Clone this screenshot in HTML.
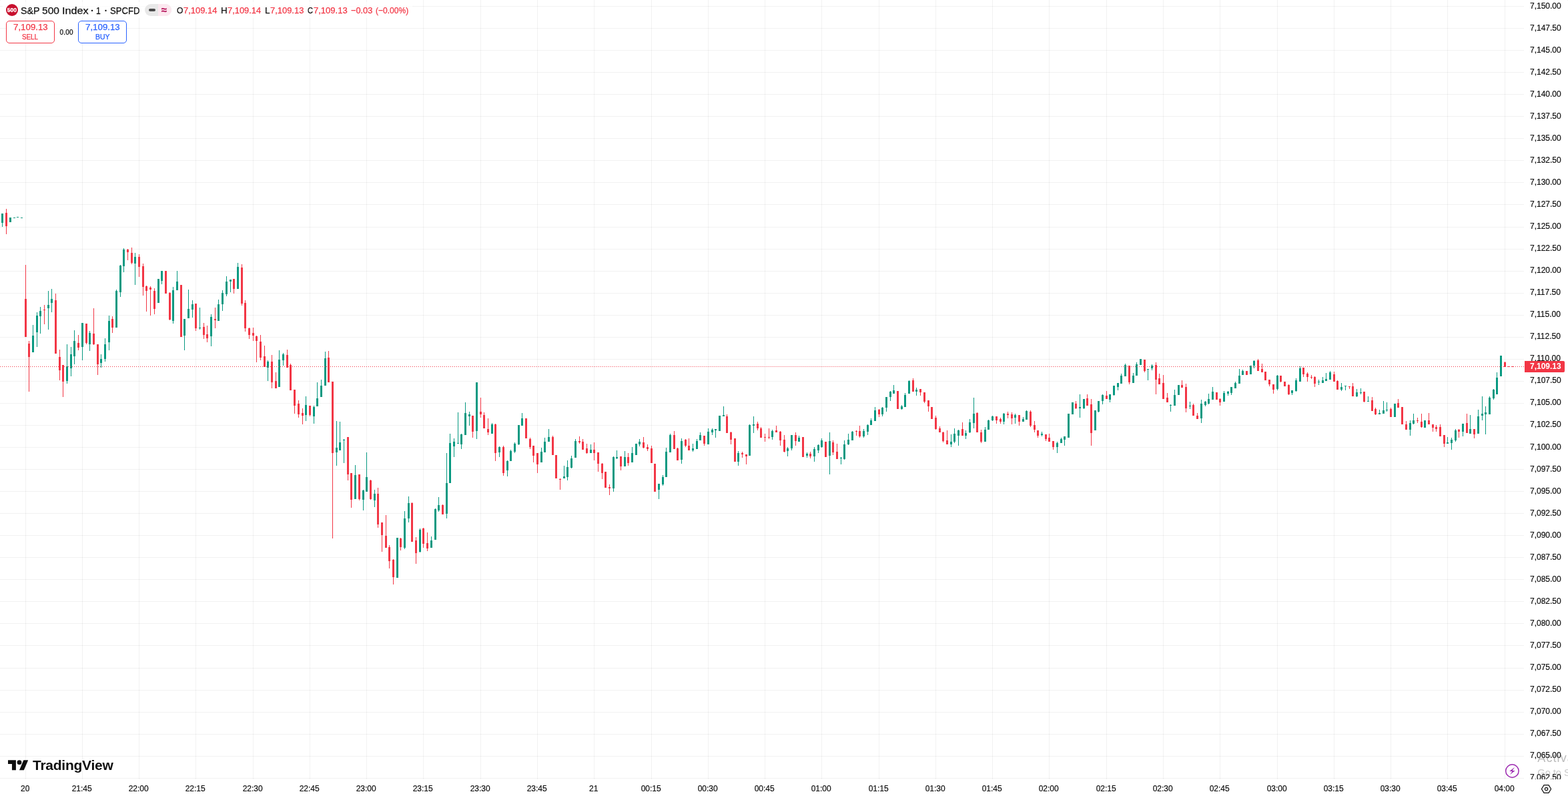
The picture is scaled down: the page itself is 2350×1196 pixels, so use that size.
<!DOCTYPE html>
<html lang="en"><head><meta charset="utf-8"><title>S&amp;P 500 Index chart</title>
<style>
html,body{margin:0;padding:0;background:#fff;}
body{width:2350px;height:1196px;overflow:hidden;position:relative;font-family:"Liberation Sans",Arial,sans-serif;color:#0f0f0f;}
.chart{position:absolute;left:0;top:0;}
.t{position:absolute;white-space:nowrap;line-height:1;-webkit-text-stroke:0.25px;}
.w{-webkit-text-stroke:0;}
.tl{position:absolute;font-size:12px;line-height:12px;white-space:nowrap;transform:translateX(-50%);-webkit-text-stroke:0.2px #0f0f0f;}
.paxis{position:absolute;left:2284px;top:0;width:66px;height:1168px;overflow:hidden;}
.paxis div{position:absolute;left:9px;font-size:12px;line-height:12px;white-space:nowrap;-webkit-text-stroke:0.2px #0f0f0f;}
.r{color:#f23645;}
.b{color:#2962ff;}
</style></head><body>
<svg class="chart" width="2350" height="1196" viewBox="0 0 2350 1196" shape-rendering="crispEdges">
<path d="M38 0h1v1168h-1zM123 0h1v1168h-1zM208 0h1v1168h-1zM293 0h1v1168h-1zM379 0h1v1168h-1zM464 0h1v1168h-1zM549 0h1v1168h-1zM634 0h1v1168h-1zM720 0h1v1168h-1zM805 0h1v1168h-1zM890 0h1v1168h-1zM976 0h1v1168h-1zM1061 0h1v1168h-1zM1146 0h1v1168h-1zM1231 0h1v1168h-1zM1317 0h1v1168h-1zM1402 0h1v1168h-1zM1487 0h1v1168h-1zM1572 0h1v1168h-1zM1658 0h1v1168h-1zM1743 0h1v1168h-1zM1828 0h1v1168h-1zM1914 0h1v1168h-1zM1999 0h1v1168h-1zM2084 0h1v1168h-1zM2169 0h1v1168h-1zM2255 0h1v1168h-1z" fill="rgba(0,0,0,0.052)"/>
<path d="M0 9h2284v1h-2284zM0 42h2284v1h-2284zM0 75h2284v1h-2284zM0 108h2284v1h-2284zM0 141h2284v1h-2284zM0 174h2284v1h-2284zM0 207h2284v1h-2284zM0 240h2284v1h-2284zM0 273h2284v1h-2284zM0 306h2284v1h-2284zM0 340h2284v1h-2284zM0 373h2284v1h-2284zM0 406h2284v1h-2284zM0 439h2284v1h-2284zM0 472h2284v1h-2284zM0 505h2284v1h-2284zM0 538h2284v1h-2284zM0 571h2284v1h-2284zM0 604h2284v1h-2284zM0 637h2284v1h-2284zM0 670h2284v1h-2284zM0 703h2284v1h-2284zM0 736h2284v1h-2284zM0 769h2284v1h-2284zM0 802h2284v1h-2284zM0 835h2284v1h-2284zM0 868h2284v1h-2284zM0 901h2284v1h-2284zM0 934h2284v1h-2284zM0 967h2284v1h-2284zM0 1001h2284v1h-2284zM0 1034h2284v1h-2284zM0 1067h2284v1h-2284zM0 1100h2284v1h-2284zM0 1133h2284v1h-2284zM0 1166h2284v1h-2284z" fill="rgba(0,0,0,0.052)"/>
<path d="M3 320h1v20h-1zM2 320h3v14h-3zM14 326h3v7h-3zM20 326h3v1h-3zM25 325h3v1h-3zM31 326h3v1h-3zM49 487h1v41h-1zM48 503h3v25h-3zM55 468h1v52h-1zM54 473h3v25h-3zM60 460h1v40h-1zM59 466h3v8h-3zM72 436h1v58h-1zM71 457h3v5h-3zM77 433h1v35h-1zM76 448h3v6h-3zM100 516h1v59h-1zM99 549h3v22h-3zM106 520h1v44h-1zM105 531h3v21h-3zM111 495h1v51h-1zM110 511h3v23h-3zM123 484h1v56h-1zM122 484h3v36h-3zM134 496h1v30h-1zM133 499h3v17h-3zM151 531h1v20h-1zM150 538h3v6h-3zM157 507h1v35h-1zM156 516h3v22h-3zM163 473h1v52h-1zM162 481h3v32h-3zM174 434h1v57h-1zM173 436h3v55h-3zM180 397h1v48h-1zM179 398h3v40h-3zM185 372h1v36h-1zM184 374h3v25h-3zM202 379h1v48h-1zM201 385h3v10h-3zM236 418h3v36h-3zM242 406h1v20h-1zM241 406h3v15h-3zM259 430h1v55h-1zM258 435h3v46h-3zM265 406h1v29h-1zM264 422h3v13h-3zM276 478h1v47h-1zM275 478h3v25h-3zM282 434h1v43h-1zM281 463h3v14h-3zM288 450h1v26h-1zM287 456h3v8h-3zM299 461h1v33h-1zM298 491h3v1h-3zM316 471h1v48h-1zM315 475h3v29h-3zM327 449h1v32h-1zM326 456h3v25h-3zM333 435h1v31h-1zM332 439h3v17h-3zM339 414h1v30h-1zM338 422h3v19h-3zM345 419h1v19h-1zM344 419h3v3h-3zM356 394h1v39h-1zM355 400h3v33h-3zM401 540h1v31h-1zM400 542h3v9h-3zM418 525h1v55h-1zM417 539h3v41h-3zM424 529h1v19h-1zM423 531h3v9h-3zM458 594h1v37h-1zM457 607h3v15h-3zM470 608h1v27h-1zM469 610h3v14h-3zM475 573h1v36h-1zM474 597h3v12h-3zM481 569h1v26h-1zM480 578h3v17h-3zM487 527h1v51h-1zM486 537h3v41h-3zM504 631h1v67h-1zM503 671h3v7h-3zM509 632h1v43h-1zM508 663h3v12h-3zM515 658h1v36h-1zM514 659h3v1h-3zM532 697h1v51h-1zM531 712h3v36h-3zM544 734h1v31h-1zM543 735h3v14h-3zM549 678h1v59h-1zM548 715h3v22h-3zM561 734h1v26h-1zM560 740h3v10h-3zM594 806h3v60h-3zM606 766h1v57h-1zM605 777h3v44h-3zM612 744h1v39h-1zM611 754h3v23h-3zM629 792h1v36h-1zM628 794h3v33h-3zM646 804h1v17h-1zM645 810h3v11h-3zM652 762h1v47h-1zM651 763h3v46h-3zM657 745h1v22h-1zM656 757h3v8h-3zM669 679h1v98h-1zM668 724h3v46h-3zM674 650h1v74h-1zM673 664h3v60h-3zM680 657h1v28h-1zM679 662h3v7h-3zM686 618h1v47h-1zM685 664h3v1h-3zM691 650h1v23h-1zM690 651h3v15h-3zM697 603h1v49h-1zM696 619h3v33h-3zM703 617h1v21h-1zM702 621h3v3h-3zM714 573h1v85h-1zM713 573h3v73h-3zM737 634h1v16h-1zM736 636h3v14h-3zM748 669h1v16h-1zM747 670h3v8h-3zM760 690h1v24h-1zM759 691h3v14h-3zM765 674h1v17h-1zM764 676h3v15h-3zM771 663h1v16h-1zM770 665h3v12h-3zM777 637h1v30h-1zM776 637h3v29h-3zM782 619h1v19h-1zM781 627h3v11h-3zM811 671h1v22h-1zM810 677h3v16h-3zM816 656h1v22h-1zM815 662h3v16h-3zM822 643h1v19h-1zM821 655h3v7h-3zM845 698h1v19h-1zM844 714h3v3h-3zM850 690h1v30h-1zM849 700h3v15h-3zM856 683h1v19h-1zM855 687h3v14h-3zM862 658h1v28h-1zM861 661h3v25h-3zM885 666h1v13h-1zM884 674h3v5h-3zM919 684h1v53h-1zM918 685h3v47h-3zM924 675h1v13h-1zM923 685h3v2h-3zM936 676h1v23h-1zM935 685h3v14h-3zM947 670h1v23h-1zM946 679h3v14h-3zM952 665h3v17h-3zM958 658h1v11h-1zM957 662h3v4h-3zM987 725h1v23h-1zM986 725h3v9h-3zM993 712h1v16h-1zM992 715h3v11h-3zM998 671h1v44h-1zM997 677h3v38h-3zM1004 650h1v28h-1zM1003 652h3v26h-3zM1021 657h1v38h-1zM1020 661h3v28h-3zM1038 665h1v12h-1zM1037 672h3v3h-3zM1044 658h1v15h-1zM1043 661h3v12h-3zM1049 648h1v12h-1zM1048 652h3v8h-3zM1061 642h1v24h-1zM1060 647h3v19h-3zM1067 642h1v10h-1zM1066 644h3v4h-3zM1072 643h1v13h-1zM1071 643h3v2h-3zM1077 623h3v23h-3zM1084 609h1v15h-1zM1083 622h3v2h-3zM1106 676h1v22h-1zM1105 679h3v13h-3zM1123 636h1v47h-1zM1122 637h3v46h-3zM1129 624h1v25h-1zM1128 636h3v2h-3zM1157 644h1v15h-1zM1156 646h3v9h-3zM1180 670h1v14h-1zM1179 672h3v4h-3zM1186 652h1v23h-1zM1185 652h3v20h-3zM1197 653h1v9h-1zM1196 656h3v6h-3zM1209 678h1v8h-1zM1208 680h3v3h-3zM1220 670h1v22h-1zM1219 673h3v11h-3zM1226 666h1v13h-1zM1225 667h3v8h-3zM1231 657h1v14h-1zM1230 660h3v10h-3zM1243 648h1v63h-1zM1242 661h3v22h-3zM1260 685h1v11h-1zM1259 686h3v1h-3zM1265 660h1v29h-1zM1264 666h3v22h-3zM1271 650h1v17h-1zM1270 659h3v7h-3zM1277 646h1v14h-1zM1276 647h3v13h-3zM1294 643h1v13h-1zM1293 646h3v8h-3zM1300 636h1v16h-1zM1299 637h3v10h-3zM1305 627h1v10h-1zM1304 630h3v7h-3zM1311 610h1v21h-1zM1310 615h3v16h-3zM1322 610h1v14h-1zM1321 611h3v10h-3zM1328 595h1v22h-1zM1327 595h3v16h-3zM1334 586h1v15h-1zM1333 587h3v8h-3zM1339 577h1v13h-1zM1338 585h3v5h-3zM1351 607h1v7h-1zM1350 609h3v4h-3zM1356 589h1v21h-1zM1355 592h3v18h-3zM1362 570h1v20h-1zM1361 571h3v19h-3zM1373 581h1v12h-1zM1372 584h3v3h-3zM1425 651h1v19h-1zM1424 662h3v4h-3zM1430 642h1v22h-1zM1429 650h3v12h-3zM1436 644h1v24h-1zM1435 645h3v8h-3zM1447 645h1v13h-1zM1446 649h3v4h-3zM1453 628h1v21h-1zM1452 633h3v15h-3zM1459 596h1v46h-1zM1458 620h3v14h-3zM1476 640h1v22h-1zM1475 644h3v18h-3zM1481 629h1v15h-1zM1480 630h3v14h-3zM1487 623h1v8h-1zM1486 624h3v6h-3zM1504 619h1v17h-1zM1503 620h3v12h-3zM1521 620h1v15h-1zM1520 622h3v4h-3zM1533 625h1v7h-1zM1532 628h3v4h-3zM1538 615h1v14h-1zM1537 616h3v13h-3zM1561 647h1v7h-1zM1560 650h3v2h-3zM1584 662h1v17h-1zM1583 664h3v6h-3zM1590 656h1v8h-1zM1589 658h3v6h-3zM1595 654h1v14h-1zM1594 654h3v5h-3zM1600 620h3v36h-3zM1606 603h3v18h-3zM1618 591h1v35h-1zM1617 610h3v2h-3zM1624 598h1v15h-1zM1623 598h3v14h-3zM1640 615h3v30h-3zM1646 601h1v17h-1zM1645 601h3v16h-3zM1652 591h1v15h-1zM1651 592h3v9h-3zM1663 591h1v12h-1zM1662 591h3v8h-3zM1669 578h1v15h-1zM1668 578h3v14h-3zM1675 574h1v11h-1zM1674 574h3v6h-3zM1680 560h1v15h-1zM1679 563h3v12h-3zM1686 545h1v19h-1zM1685 547h3v17h-3zM1698 559h1v15h-1zM1697 563h3v11h-3zM1703 543h1v20h-1zM1702 546h3v17h-3zM1708 538h3v9h-3zM1720 553h1v17h-1zM1719 553h3v1h-3zM1726 546h1v9h-1zM1725 548h3v4h-3zM1754 606h1v11h-1zM1753 607h3v1h-3zM1760 584h1v24h-1zM1759 592h3v16h-3zM1765 577h3v15h-3zM1783 602h1v11h-1zM1782 608h3v1h-3zM1800 599h1v35h-1zM1799 605h3v22h-3zM1806 601h1v8h-1zM1805 602h3v5h-3zM1811 590h1v16h-1zM1810 598h3v7h-3zM1817 580h1v19h-1zM1816 587h3v12h-3zM1834 586h1v16h-1zM1833 589h3v13h-3zM1840 586h1v7h-1zM1839 587h3v3h-3zM1845 580h1v12h-1zM1844 580h3v9h-3zM1851 572h1v10h-1zM1850 574h3v8h-3zM1857 553h1v22h-1zM1856 563h3v12h-3zM1862 554h1v8h-1zM1861 556h3v6h-3zM1873 548h3v13h-3zM1879 540h1v12h-1zM1878 541h3v7h-3zM1914 562h1v23h-1zM1913 563h3v20h-3zM1936 585h1v7h-1zM1935 585h3v4h-3zM1942 567h1v20h-1zM1941 570h3v16h-3zM1948 549h1v23h-1zM1947 552h3v20h-3zM1976 569h1v8h-1zM1975 572h3v1h-3zM1982 565h1v9h-1zM1981 570h3v4h-3zM1987 559h1v12h-1zM1986 568h3v3h-3zM1993 556h1v13h-1zM1992 558h3v11h-3zM2010 574h1v12h-1zM2009 580h3v4h-3zM2016 578h1v7h-1zM2015 578h3v1h-3zM2033 583h1v12h-1zM2032 588h3v6h-3zM2039 582h1v9h-1zM2038 588h3v1h-3zM2050 594h1v8h-1zM2049 601h3v1h-3zM2067 614h1v7h-1zM2066 619h3v2h-3zM2073 601h1v19h-1zM2072 615h3v5h-3zM2078 603h1v14h-1zM2077 614h3v1h-3zM2089 605h3v20h-3zM2113 630h1v23h-1zM2112 634h3v10h-3zM2118 620h1v16h-1zM2117 630h3v5h-3zM2134 630h3v11h-3zM2169 655h1v10h-1zM2168 663h3v2h-3zM2175 656h1v18h-1zM2174 659h3v5h-3zM2181 643h1v19h-1zM2180 645h3v15h-3zM2192 635h1v19h-1zM2191 635h3v12h-3zM2203 622h1v28h-1zM2202 643h3v7h-3zM2215 614h1v36h-1zM2214 624h3v26h-3zM2221 594h1v36h-1zM2220 620h3v3h-3zM2226 609h1v42h-1zM2225 618h3v3h-3zM2232 594h1v27h-1zM2231 596h3v25h-3zM2238 583h1v16h-1zM2237 584h3v13h-3zM2243 558h1v33h-1zM2242 566h3v25h-3zM2248 533h3v31h-3z" fill="#089981"/>
<path d="M9 313h1v38h-1zM8 319h3v20h-3zM38 397h1v108h-1zM37 448h3v57h-3zM43 511h1v76h-1zM42 515h3v20h-3zM66 457h1v29h-1zM65 464h3v1h-3zM83 440h1v90h-1zM82 450h3v80h-3zM89 524h1v46h-1zM88 535h3v20h-3zM94 547h1v48h-1zM93 547h3v25h-3zM117 502h1v23h-1zM116 514h3v7h-3zM129 485h1v31h-1zM128 485h3v29h-3zM140 462h1v55h-1zM139 500h3v16h-3zM146 516h1v46h-1zM145 516h3v30h-3zM168 474h1v25h-1zM167 478h3v13h-3zM191 373h1v17h-1zM190 374h3v4h-3zM197 371h1v25h-1zM196 379h3v15h-3zM208 381h1v34h-1zM207 385h3v15h-3zM214 395h1v48h-1zM213 399h3v31h-3zM219 428h1v39h-1zM218 429h3v7h-3zM225 429h1v44h-1zM224 431h3v3h-3zM231 432h1v39h-1zM230 436h3v27h-3zM247 406h3v34h-3zM254 438h1v42h-1zM253 439h3v40h-3zM270 427h3v78h-3zM293 455h1v41h-1zM292 455h3v37h-3zM305 484h1v24h-1zM304 490h3v12h-3zM310 488h1v25h-1zM309 501h3v6h-3zM322 461h1v31h-1zM321 478h3v2h-3zM350 418h1v22h-1zM349 418h3v15h-3zM362 396h1v62h-1zM361 401h3v54h-3zM367 450h1v47h-1zM366 454h3v38h-3zM373 491h1v17h-1zM372 492h3v10h-3zM379 491h1v20h-1zM378 499h3v4h-3zM384 503h1v40h-1zM383 504h3v7h-3zM390 502h1v38h-1zM389 512h3v24h-3zM396 518h1v32h-1zM395 534h3v16h-3zM407 532h1v50h-1zM406 542h3v31h-3zM413 558h1v24h-1zM412 571h3v11h-3zM430 524h1v27h-1zM429 532h3v19h-3zM435 545h1v40h-1zM434 547h3v38h-3zM441 584h1v36h-1zM440 584h3v24h-3zM447 600h1v26h-1zM446 605h3v16h-3zM453 612h1v24h-1zM452 619h3v4h-3zM464 608h1v16h-1zM463 608h3v14h-3zM492 526h1v47h-1zM491 536h3v37h-3zM498 572h1v235h-1zM497 572h3v107h-3zM521 655h1v65h-1zM520 655h3v56h-3zM526 709h1v52h-1zM525 709h3v40h-3zM538 711h1v39h-1zM537 711h3v37h-3zM555 719h1v30h-1zM554 720h3v28h-3zM566 731h1v60h-1zM565 740h3v46h-3zM572 783h1v44h-1zM571 783h3v19h-3zM578 772h1v49h-1zM577 803h3v18h-3zM583 817h1v35h-1zM582 820h3v21h-3zM589 838h1v38h-1zM588 839h3v26h-3zM600 806h1v19h-1zM599 807h3v13h-3zM617 753h1v59h-1zM616 754h3v58h-3zM623 805h1v40h-1zM622 810h3v19h-3zM634 791h1v30h-1zM633 792h3v23h-3zM640 798h1v28h-1zM639 814h3v8h-3zM663 756h1v15h-1zM662 757h3v14h-3zM708 623h1v33h-1zM707 623h3v24h-3zM720 596h1v30h-1zM719 617h3v4h-3zM725 618h1v24h-1zM724 622h3v20h-3zM731 627h1v25h-1zM730 643h3v5h-3zM742 635h1v56h-1zM741 636h3v43h-3zM754 668h1v45h-1zM753 670h3v39h-3zM787 627h3v30h-3zM794 656h1v17h-1zM793 658h3v12h-3zM799 668h1v25h-1zM798 668h3v15h-3zM805 679h1v30h-1zM804 679h3v17h-3zM828 653h1v29h-1zM827 655h3v27h-3zM832 682h3v35h-3zM839 717h1v17h-1zM838 718h3v1h-3zM868 654h1v11h-1zM867 661h3v2h-3zM873 658h1v16h-1zM872 662h3v12h-3zM879 665h1v15h-1zM878 672h3v7h-3zM890 663h1v27h-1zM889 674h3v5h-3zM896 678h1v29h-1zM895 678h3v17h-3zM902 694h1v24h-1zM901 695h3v14h-3zM906 707h3v24h-3zM913 726h1v16h-1zM912 730h3v2h-3zM930 684h1v21h-1zM929 684h3v15h-3zM941 679h1v19h-1zM940 685h3v9h-3zM964 655h1v17h-1zM963 663h3v8h-3zM970 666h1v10h-1zM969 670h3v3h-3zM976 668h1v26h-1zM975 672h3v22h-3zM980 695h3v42h-3zM1010 646h1v27h-1zM1009 652h3v21h-3zM1015 671h1v19h-1zM1014 672h3v18h-3zM1027 658h1v12h-1zM1026 659h3v9h-3zM1032 657h1v18h-1zM1031 668h3v7h-3zM1055 653h1v15h-1zM1054 653h3v12h-3zM1089 621h1v28h-1zM1088 624h3v25h-3zM1095 647h1v19h-1zM1094 648h3v11h-3zM1100 657h3v35h-3zM1112 677h1v9h-1zM1111 679h3v2h-3zM1118 681h1v15h-1zM1117 681h3v3h-3zM1135 632h1v13h-1zM1134 635h3v7h-3zM1140 640h1v16h-1zM1139 642h3v14h-3zM1146 650h1v12h-1zM1145 655h3v1h-3zM1152 642h1v16h-1zM1151 655h3v1h-3zM1163 638h1v10h-1zM1162 645h3v3h-3zM1169 646h1v22h-1zM1168 647h3v13h-3zM1175 652h1v26h-1zM1174 659h3v18h-3zM1192 648h1v20h-1zM1191 652h3v9h-3zM1202 655h3v30h-3zM1214 677h1v10h-1zM1213 680h3v4h-3zM1236 662h3v23h-3zM1248 660h1v22h-1zM1247 663h3v15h-3zM1254 665h1v23h-1zM1253 677h3v11h-3zM1283 645h1v8h-1zM1282 646h3v1h-3zM1288 638h1v18h-1zM1287 646h3v8h-3zM1317 613h1v12h-1zM1316 614h3v7h-3zM1344 586h3v27h-3zM1368 567h1v20h-1zM1367 570h3v17h-3zM1379 583h1v10h-1zM1378 583h3v5h-3zM1385 588h1v16h-1zM1384 588h3v14h-3zM1391 600h1v17h-1zM1390 600h3v9h-3zM1395 610h3v18h-3zM1402 623h1v21h-1zM1401 626h3v17h-3zM1408 639h1v9h-1zM1407 642h3v6h-3zM1413 647h1v16h-1zM1412 648h3v13h-3zM1419 645h1v21h-1zM1418 660h3v6h-3zM1442 633h1v20h-1zM1441 643h3v10h-3zM1464 618h1v30h-1zM1463 619h3v29h-3zM1470 644h1v20h-1zM1469 648h3v14h-3zM1493 624h1v11h-1zM1492 624h3v6h-3zM1499 626h1v9h-1zM1498 628h3v4h-3zM1510 617h1v10h-1zM1509 620h3v2h-3zM1516 618h1v18h-1zM1515 621h3v6h-3zM1527 622h1v16h-1zM1526 622h3v10h-3zM1544 615h1v25h-1zM1543 617h3v21h-3zM1550 631h1v17h-1zM1549 637h3v7h-3zM1555 645h1v11h-1zM1554 645h3v8h-3zM1567 651h1v10h-1zM1566 651h3v7h-3zM1572 650h1v12h-1zM1571 656h3v6h-3zM1578 661h1v13h-1zM1577 661h3v9h-3zM1612 601h1v12h-1zM1611 605h3v7h-3zM1629 591h1v17h-1zM1628 597h3v11h-3zM1635 598h1v70h-1zM1634 606h3v43h-3zM1658 586h1v12h-1zM1657 593h3v5h-3zM1692 548h1v28h-1zM1691 548h3v25h-3zM1715 539h1v19h-1zM1714 539h3v17h-3zM1732 543h1v48h-1zM1731 547h3v22h-3zM1737 560h1v16h-1zM1736 567h3v9h-3zM1743 562h1v36h-1zM1742 574h3v24h-3zM1749 589h1v14h-1zM1748 596h3v7h-3zM1771 570h1v11h-1zM1770 577h3v4h-3zM1777 575h1v43h-1zM1776 580h3v32h-3zM1788 605h1v18h-1zM1787 607h3v16h-3zM1794 619h1v9h-1zM1793 623h3v5h-3zM1822 588h3v11h-3zM1828 597h1v11h-1zM1827 598h3v5h-3zM1867 556h3v6h-3zM1885 538h1v18h-1zM1884 540h3v16h-3zM1891 545h1v13h-1zM1890 553h3v5h-3zM1895 557h3v13h-3zM1902 569h1v10h-1zM1901 569h3v7h-3zM1908 576h1v14h-1zM1907 576h3v8h-3zM1919 563h1v10h-1zM1918 563h3v9h-3zM1924 572h3v7h-3zM1931 576h1v16h-1zM1930 577h3v14h-3zM1953 551h1v14h-1zM1952 551h3v10h-3zM1959 558h1v14h-1zM1958 560h3v5h-3zM1965 562h1v6h-1zM1964 565h3v1h-3zM1970 564h1v16h-1zM1969 565h3v10h-3zM1999 557h1v15h-1zM1998 561h3v11h-3zM2004 570h1v14h-1zM2003 571h3v13h-3zM2022 579h1v4h-1zM2021 579h3v1h-3zM2027 574h1v20h-1zM2026 579h3v15h-3zM2044 587h1v16h-1zM2043 587h3v15h-3zM2056 595h1v21h-1zM2055 600h3v16h-3zM2061 611h1v11h-1zM2060 613h3v8h-3zM2084 611h1v14h-1zM2083 613h3v12h-3zM2095 598h1v13h-1zM2094 604h3v7h-3zM2100 610h3v26h-3zM2107 631h1v13h-1zM2106 636h3v8h-3zM2124 626h1v8h-1zM2123 630h3v1h-3zM2130 620h1v21h-1zM2129 632h3v8h-3zM2141 619h1v17h-1zM2140 630h3v6h-3zM2147 636h1v11h-1zM2146 636h3v5h-3zM2152 637h1v10h-1zM2151 640h3v3h-3zM2158 636h1v18h-1zM2157 640h3v14h-3zM2164 652h1v18h-1zM2163 652h3v13h-3zM2186 643h1v13h-1zM2185 644h3v3h-3zM2198 620h1v29h-1zM2197 634h3v15h-3zM2209 643h1v14h-1zM2208 643h3v8h-3zM2255 542h1v8h-1zM2254 543h3v7h-3zM2259 549h3v1h-3zM2265 549h3v1h-3z" fill="#f23645"/>
<path d="M0 549.5H2284" stroke="#f23645" stroke-width="1" stroke-dasharray="1 2" fill="none"/>
</svg>
<div class="paxis"><div style="top:3px">7,150.00</div><div style="top:36px">7,147.50</div><div style="top:69px">7,145.00</div><div style="top:102px">7,142.50</div><div style="top:135px">7,140.00</div><div style="top:168px">7,137.50</div><div style="top:201px">7,135.00</div><div style="top:234px">7,132.50</div><div style="top:267px">7,130.00</div><div style="top:300px">7,127.50</div><div style="top:333px">7,125.00</div><div style="top:366px">7,122.50</div><div style="top:399px">7,120.00</div><div style="top:432px">7,117.50</div><div style="top:465px">7,115.00</div><div style="top:498px">7,112.50</div><div style="top:531px">7,110.00</div><div style="top:564px">7,107.50</div><div style="top:597px">7,105.00</div><div style="top:630px">7,102.50</div><div style="top:664px">7,100.00</div><div style="top:697px">7,097.50</div><div style="top:730px">7,095.00</div><div style="top:763px">7,092.50</div><div style="top:796px">7,090.00</div><div style="top:829px">7,087.50</div><div style="top:862px">7,085.00</div><div style="top:895px">7,082.50</div><div style="top:928px">7,080.00</div><div style="top:961px">7,077.50</div><div style="top:994px">7,075.00</div><div style="top:1027px">7,072.50</div><div style="top:1060px">7,070.00</div><div style="top:1093px">7,067.50</div><div style="top:1126px">7,065.00</div><div style="top:1159px">7,062.50</div></div>
<div class="tl" style="left:37.7px;top:1176px">20</div><div class="tl" style="left:122.7px;top:1176px">21:45</div><div class="tl" style="left:207.7px;top:1176px">22:00</div><div class="tl" style="left:292.7px;top:1176px">22:15</div><div class="tl" style="left:378.7px;top:1176px">22:30</div><div class="tl" style="left:463.7px;top:1176px">22:45</div><div class="tl" style="left:548.7px;top:1176px">23:00</div><div class="tl" style="left:633.7px;top:1176px">23:15</div><div class="tl" style="left:719.7px;top:1176px">23:30</div><div class="tl" style="left:804.7px;top:1176px">23:45</div><div class="tl" style="left:889.7px;top:1176px">21</div><div class="tl" style="left:975.7px;top:1176px">00:15</div><div class="tl" style="left:1060.7px;top:1176px">00:30</div><div class="tl" style="left:1145.7px;top:1176px">00:45</div><div class="tl" style="left:1230.7px;top:1176px">01:00</div><div class="tl" style="left:1316.7px;top:1176px">01:15</div><div class="tl" style="left:1401.7px;top:1176px">01:30</div><div class="tl" style="left:1486.7px;top:1176px">01:45</div><div class="tl" style="left:1571.7px;top:1176px">02:00</div><div class="tl" style="left:1657.7px;top:1176px">02:15</div><div class="tl" style="left:1742.7px;top:1176px">02:30</div><div class="tl" style="left:1827.7px;top:1176px">02:45</div><div class="tl" style="left:1913.7px;top:1176px">03:00</div><div class="tl" style="left:1998.7px;top:1176px">03:15</div><div class="tl" style="left:2083.7px;top:1176px">03:30</div><div class="tl" style="left:2168.7px;top:1176px">03:45</div><div class="tl" style="left:2254.7px;top:1176px">04:00</div>
<!-- last price label -->
<div style="position:absolute;left:2285px;top:541px;width:60px;height:17px;background:#f23645;border-radius:0 2px 2px 0;"></div>
<div class="t" style="left:2293px;top:543.2px;font-size:12px;color:#fff;font-weight:bold;-webkit-text-stroke:0;">7,109.13</div>
<!-- header -->
<div style="position:absolute;left:4px;top:3px;width:614px;height:24px;background:rgba(255,255,255,0.65);"></div>
<div style="position:absolute;left:9px;top:31px;width:181px;height:34px;background:rgba(255,255,255,0.65);"></div>
<div style="position:absolute;left:9px;top:6px;width:18px;height:18px;border-radius:50%;background:#c8102e;"></div>
<div class="t" style="left:9px;top:11.1px;width:18px;text-align:center;font-size:9px;font-weight:bold;color:#fff;letter-spacing:0px;transform:scaleX(0.95);">500</div>
<div class="t" id="t1" style="left:30.53px;top:8.2px;font-size:15px;-webkit-text-stroke:0.25px #0f0f0f;transform:scaleX(0.9547);transform-origin:0 0;">S&amp;P</div>
<div class="t" id="t2" style="left:63.27px;top:8.2px;font-size:15px;-webkit-text-stroke:0.25px #0f0f0f;transform:scaleX(1.0347);transform-origin:0 0;">500</div>
<div class="t" id="t3" style="left:92.78px;top:8.2px;font-size:15px;-webkit-text-stroke:0.25px #0f0f0f;transform:scaleX(1.0827);transform-origin:0 0;">Index</div>
<div class="t w" id="t4" style="left:134.6px;top:2.5px;font-size:21px;">·</div>
<div class="t" id="t5" style="left:144.05px;top:8.2px;font-size:15px;-webkit-text-stroke:0.25px #0f0f0f;transform:scaleX(0.8107);transform-origin:0 0;">1</div>
<div class="t w" id="t6" style="left:155.1px;top:2.5px;font-size:21px;">·</div>
<div class="t" id="t7" style="left:164.69px;top:8.2px;font-size:15px;-webkit-text-stroke:0.25px #0f0f0f;transform:scaleX(0.8736);transform-origin:0 0;">SPCFD</div>
<div style="position:absolute;left:217px;top:6px;width:40px;height:18px;border-radius:9px;overflow:hidden;background:#e8e8e8;">
  <div style="position:absolute;left:20px;top:0;width:20px;height:18px;background:#fce8ef;"></div>
  <div style="position:absolute;left:6px;top:7px;width:10px;height:4px;border-radius:2px;background:#4a4a4a;"></div>
  <div class="t" style="left:24.8px;top:1px;font-size:15px;color:#b5135a;font-weight:bold;">≈</div>
</div>
<div class="t" id="o1a" style="left:265.20px;top:9px;font-size:13px;transform:scaleX(0.9300);transform-origin:0 0;">O</div>
<div class="t r" id="o1b" style="left:275.20px;top:9px;font-size:13px;transform:scaleX(0.995);transform-origin:0 0;">7,109.14</div>
<div class="t" id="o2a" style="left:330.60px;top:9px;font-size:13px;transform:scaleX(1.0300);transform-origin:0 0;">H</div>
<div class="t r" id="o2b" style="left:341.15px;top:9px;font-size:13px;transform:scaleX(0.990);transform-origin:0 0;">7,109.14</div>
<div class="t" id="o3a" style="left:396.80px;top:9px;font-size:13px;transform:scaleX(1.0400);transform-origin:0 0;">L</div>
<div class="t r" id="o3b" style="left:405.15px;top:9px;font-size:13px;transform:scaleX(0.995);transform-origin:0 0;">7,109.13</div>
<div class="t" id="o4a" style="left:461.06px;top:9px;font-size:13px;transform:scaleX(0.8500);transform-origin:0 0;">C</div>
<div class="t r" id="o4b" style="left:470.15px;top:9px;font-size:13px;transform:scaleX(1.002);transform-origin:0 0;">7,109.13</div>
<div class="t r" id="o5a" style="left:526.30px;top:9px;font-size:13px;transform:scaleX(0.983);transform-origin:0 0;">−0.03</div>
<div class="t r" id="o5b" style="left:563.10px;top:9px;font-size:13px;transform:scaleX(0.926);transform-origin:0 0;">(−0.00%)</div>
<!-- sell / buy -->
<div style="position:absolute;left:9px;top:31px;width:71px;height:32px;border:1px solid #f23645;border-radius:5px;background:#fff;"></div>
<div class="t r" style="left:19.9px;top:34px;font-size:13px;transform:scaleX(1.023);transform-origin:0 0;">7,109.13</div>
<div class="t r" style="left:33.2px;top:50.7px;font-size:10px;transform:scaleX(0.983);transform-origin:0 0;">SELL</div>
<div class="t" style="left:89.6px;top:43.6px;font-size:10px;letter-spacing:0.2px;">0.00</div>
<div style="position:absolute;left:117px;top:31px;width:71px;height:32px;border:1px solid #2962ff;border-radius:5px;background:#fff;"></div>
<div class="t b" style="left:128.1px;top:34px;font-size:13px;transform:scaleX(1.023);transform-origin:0 0;">7,109.13</div>
<div class="t b" style="left:142.8px;top:50.7px;font-size:10px;transform:scaleX(1.044);transform-origin:0 0;">BUY</div>
<!-- TradingView logo -->
<svg style="position:absolute;left:11.9px;top:1135.7px;" width="30.6" height="23.2" viewBox="0 0 36 28" preserveAspectRatio="none"><path d="M14 22H7V11H0V4h14v18zM28 22h-8l7.5-18h8L28 22z" fill="#0f0f0f"/><circle cx="20" cy="8" r="4" fill="#0f0f0f"/></svg>
<div class="t w" id="tvtxt" style="left:49px;top:1135.7px;font-size:21px;font-weight:bold;color:#0f0f0f;letter-spacing:-0.25px;">TradingView</div>
<!-- lightning icon -->
<svg style="position:absolute;left:2255px;top:1144px;" width="23" height="23" viewBox="0 0 23 23"><circle cx="11.4" cy="11.5" r="9.7" fill="#fff" stroke="#9c27b0" stroke-width="1.45"/><path d="M14.9 6 7.2 11.9h4.2L8.1 17l7.6-6h-4.1z" fill="#9c27b0"/></svg>
<!-- settings hex icon -->
<svg style="position:absolute;left:2308px;top:1174px;" width="19" height="17" viewBox="0 0 19 17"><path d="M6 2.6h7l3.6 5.9-3.6 5.9H6L2.4 8.5z" fill="none" stroke="#0f0f0f" stroke-width="1.2"/><circle cx="9.5" cy="8.5" r="2.2" fill="none" stroke="#0f0f0f" stroke-width="1.2"/></svg>
<!-- windows watermark -->
<div class="t w" style="left:2304.3px;top:1127.4px;font-size:18px;letter-spacing:1.1px;color:rgba(120,120,120,0.5);">Activate Windows</div>
<div class="t w" style="left:2304.3px;top:1150.5px;font-size:14.6px;color:rgba(120,120,120,0.4);">Go to Settings to activate Windows.</div>

<!-- corner pixels -->
<div style="position:absolute;left:0;top:0;width:1px;height:1px;background:#f2f2f2;"></div>
<div style="position:absolute;left:2349px;top:0;width:1px;height:1px;background:#f2f2f2;"></div>

</body></html>
